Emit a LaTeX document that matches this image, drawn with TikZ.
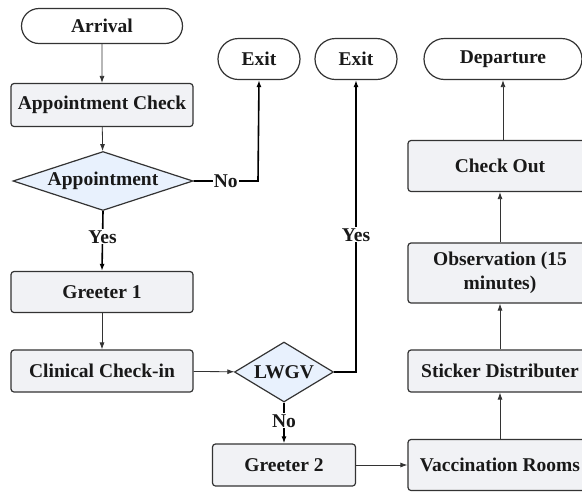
\documentclass[tikz,border=0pt]{standalone}
\usepackage{fontspec}
\setmainfont{Liberation Serif}
\usetikzlibrary{arrows.meta,shapes.geometric,shapes.misc}
\definecolor{boxfill}{HTML}{F1F2F5}
\definecolor{dfill}{HTML}{E8F1FD}
\definecolor{edge}{HTML}{333333}
\begin{document}
\begin{tikzpicture}[x=1pt,y=-1pt,
  every node/.style={font=\bfseries\fontsize{19.5}{24}\selectfont, text=black!90},
  term/.style={draw=edge, line width=1.2pt, rounded rectangle, fill=white, inner sep=0pt},
  proc/.style={draw=edge, line width=1.2pt, rounded corners=3pt, fill=boxfill, inner sep=0pt, align=center},
  dec/.style={draw=edge, line width=1.2pt, diamond, fill=dfill, inner sep=0pt},
  thin/.style={draw=edge, line width=0.8pt, -{Latex[length=7pt,width=5pt]}},
  thick/.style={draw=black, line width=1.6pt, -{Latex[length=7pt,width=5pt]}},
  lbl/.style={fill=white, inner sep=1pt}]
\useasboundingbox (0,0) rectangle (582,491);
\node[term, minimum width=161pt, minimum height=35pt] (arrival) at (102,26) {Arrival};
\node[proc, minimum width=182pt, minimum height=43pt] (apcheck) at (102,105) {Appointment Check};
\node[dec, aspect=3.05, minimum width=180pt, minimum height=59pt] (appt) at (103,181) {Appointment};
\node[term, minimum width=82pt, minimum height=41pt] (exit1) at (259,59) {Exit};
\node[term, minimum width=82pt, minimum height=41pt] (exit2) at (356,59) {Exit};
\node[term, minimum width=158pt, minimum height=41pt] (departure) at (503,59) {Departure};
\node[proc, minimum width=184pt, minimum height=51pt] (checkout) at (500,166) {Check Out};
\node[proc, minimum width=184pt, minimum height=60pt] (obs) at (500,273) {Observation (15\\minutes)};
\node[proc, minimum width=184pt, minimum height=42pt] (sticker) at (500,371) {Sticker Distributer};
\node[proc, minimum width=184pt, minimum height=51pt] (vacc) at (500,465) {Vaccination Rooms};
\node[proc, minimum width=182pt, minimum height=41pt] (greeter1) at (102,292) {Greeter 1};
\node[proc, minimum width=182pt, minimum height=42pt] (clinical) at (102,371) {Clinical Check-in};
\node[dec, aspect=1.65, minimum width=99pt, minimum height=60pt] (lwgv) at (284,372) {LWGV};
\node[proc, minimum width=143pt, minimum height=42pt] (greeter2) at (284,465) {Greeter 2};
\coordinate (c1) at (258,181);
\coordinate (c2) at (356,372);
% thin arrows
\draw[thin] (arrival) -- (apcheck);
\draw[thin] (apcheck) -- (appt);
\draw[thin] (greeter1) -- (clinical);
\draw[thin] (clinical) -- (lwgv);
\draw[thin] (greeter2) -- (vacc);
\draw[thin] (vacc) -- (sticker);
\draw[thin] (sticker) -- (obs);
\draw[thin] (obs) -- (checkout);
\draw[thin] (departure.south |- checkout.north) -- (departure.south);
% thick decision arrows
\draw[thick] (appt.south) -- node[lbl, pos=0.43] (yes1) {Yes} (greeter1.north);
\draw[thick] (appt.east) -- node[lbl] (no1) {No} (c1) -- (exit1.south);
\draw[thick] (lwgv.east) -- (c2) -- node[lbl, pos=0.47] (yes2) {Yes} (exit2.south);
\draw[thick] (lwgv.south) -- node[lbl, pos=0.45] (no2) {No} (greeter2.north);
\end{tikzpicture}
\end{document}
